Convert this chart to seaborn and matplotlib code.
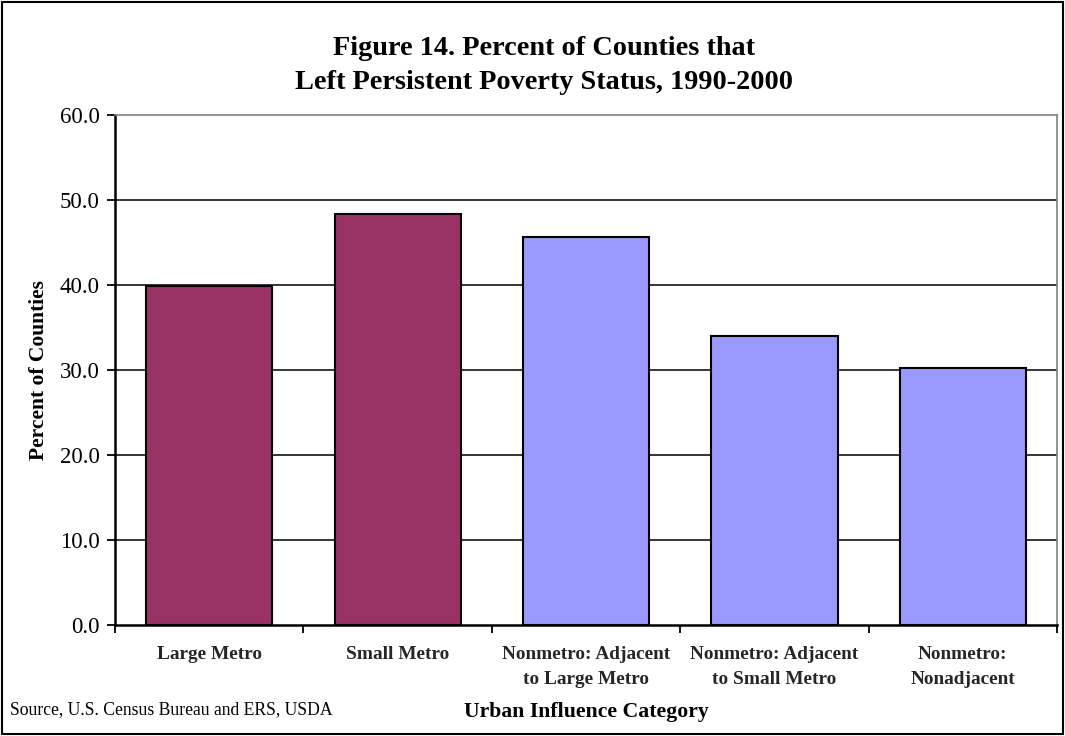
import matplotlib
matplotlib.use("Agg")
import matplotlib.pyplot as plt
import seaborn as sns
import numpy as np
from matplotlib.patches import Rectangle
from matplotlib.ticker import FormatStrFormatter

categories = [
    "Large Metro",
    "Small Metro",
    "Nonmetro: Adjacent\nto Large Metro",
    "Nonmetro: Adjacent\nto Small Metro",
    "Nonmetro:\nNonadjacent",
]
values = [39.9, 48.4, 45.6, 34.0, 30.2]
bar_colors = ["#993366", "#993366", "#9999FF", "#9999FF", "#9999FF"]
y_ticks = [0, 10, 20, 30, 40, 50, 60]

sns.set_theme(style="white")
plt.rcParams["font.family"] = ["Liberation Serif", "DejaVu Serif"]

fig = plt.figure(figsize=(10.65, 7.36), dpi=100)
ax = fig.add_axes([0.108, 0.1508, 0.8845, 0.693])

sns.barplot(
    x=categories, y=values, hue=categories, palette=bar_colors,
    legend=False, width=0.67, edgecolor="black", linewidth=1.5,
    saturation=1, ax=ax, zorder=3,
)

ax.set_ylim(0, 60)
ax.set_xlim(-0.5, len(categories) - 0.5)
ax.set_yticks(y_ticks)
ax.yaxis.set_major_formatter(FormatStrFormatter("%.1f"))
for y in y_ticks[1:-1]:
    ax.axhline(y, color="black", linewidth=1.1, zorder=1)

# category labels at bar centres, tick marks at category boundaries
ax.set_xticks(np.arange(len(categories)))
ax.set_xticklabels(categories, fontsize=13.9, fontweight="bold", linespacing=1.65)
ax.set_xticks(np.arange(len(categories) + 1) - 0.5, minor=True)
ax.tick_params(axis="x", which="major", length=0, pad=15)
ax.tick_params(axis="x", which="minor", length=6, width=1.3, color="black",
               direction="out", bottom=True)
ax.tick_params(axis="y", length=6, width=1.3, color="black", direction="out",
               left=True, labelsize=16.5, pad=5)
for lbl in ax.get_yticklabels():
    lbl.set_color("black")

for side in ["left", "bottom"]:
    ax.spines[side].set_color("black")
    ax.spines[side].set_linewidth(1.8)
for side in ["top", "right"]:
    ax.spines[side].set_color("#808080")
    ax.spines[side].set_linewidth(1.2)

ax.set_ylabel("Percent of Counties", fontsize=15.5, fontweight="bold",
              color="black", labelpad=8)
ax.set_xlabel("Urban Influence Category", fontsize=15.7, fontweight="bold",
              color="black", labelpad=10)

fig.text(0.511, 0.911, "Figure 14. Percent of Counties that\nLeft Persistent Poverty Status, 1990-2000",
         ha="center", va="center", fontsize=20.3, fontweight="bold",
         linespacing=1.5, color="black")
fig.text(0.009, 0.036, "Source, U.S. Census Bureau and ERS, USDA",
         ha="left", va="center", fontsize=12.7, color="black")

fig.patches.append(Rectangle((0.002, 0.003), 0.996, 0.994, transform=fig.transFigure,
                             fill=False, edgecolor="black", linewidth=1.5))

fig.savefig("out.png", dpi=100)
